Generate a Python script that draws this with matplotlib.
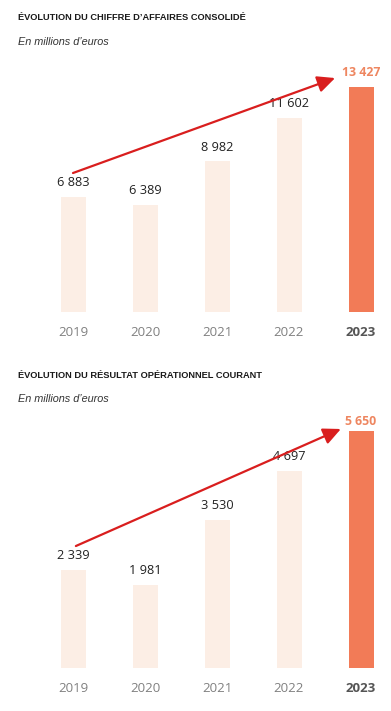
import matplotlib
matplotlib.use("Agg")
import matplotlib.pyplot as plt

years = ["2019", "2020", "2021", "2022", "2023"]
ca_values = [6883, 6389, 8982, 11602, 13427]
ca_labels = ["6 883", "6 389", "8 982", "11 602", "13 427"]
roc_values = [2339, 1981, 3530, 4697, 5650]
roc_labels = ["2 339", "1 981", "3 530", "4 697", "5 650"]

titles = ["ÉVOLUTION DU CHIFFRE D’AFFAIRES CONSOLIDÉ",
          "ÉVOLUTION DU RÉSULTAT OPÉRATIONNEL COURANT"]
subtitle = "En millions d’euros"

# arrow annotations (start, end) in data coords
ca_arrow = [(0.0, 8294), (3.64, 13962)]
roc_arrow = [(0.04, 2908), (3.72, 5698)]

LIGHT = "#FCEEE5"
HIGHLIGHT = "#F27B57"
LABEL_HI = "#EE8660"
ARROW = "#D91E1E"
FONT = ["Liberation Sans", "DejaVu Sans"]
NUMFONT = ["Open Sans", "DejaVu Sans"]

W, H = 391, 711
fig = plt.figure(figsize=(W / 100, H / 100), dpi=100)
fig.patch.set_facecolor("white")


def panel(base_px, top_px, ymax, values, labels, arrow, title_y, sub_y, title,
          hi_offset):
    ax = fig.add_axes([0, (H - base_px) / H, 1, (base_px - top_px) / H])
    ax.set_xlim(-73 / 72, (W - 73) / 72)
    ax.set_ylim(0, ymax)
    ax.axis("off")
    x = list(range(len(years)))
    colors = [LIGHT] * (len(years) - 1) + [HIGHLIGHT]
    ax.bar(x, values, width=25 / 72, color=colors)
    for i, (v, lab) in enumerate(zip(values, labels)):
        last = i == len(years) - 1
        ax.annotate(lab, xy=(i, v), xytext=(0, hi_offset if last else 14),
                    textcoords="offset pixels", ha="center", va="center",
                    fontsize=8.8 if last else 9.2,
                    fontweight="bold" if last else "normal",
                    color=LABEL_HI if last else "#222222", family=NUMFONT)
        ax.annotate(years[i], xy=(i, 0), xytext=(0, -20),
                    textcoords="offset pixels", ha="center", va="center",
                    fontsize=9.5, fontweight="bold" if last else "normal",
                    color="#555555" if last else "#808080", family=NUMFONT,
                    annotation_clip=False)
    (x0, y0), (x1, y1) = arrow
    ax.annotate("", xy=(x1, y1), xytext=(x0, y0),
                arrowprops=dict(arrowstyle="-|>,head_length=0.85,head_width=0.4",
                                color=ARROW, lw=1.6, mutation_scale=12.5,
                                shrinkA=0, shrinkB=0),
                annotation_clip=False)
    fig.text(18 / W, 1 - title_y / H, title, fontsize=6.7, fontweight="bold",
             color="#1a1a1a", ha="left", va="center", family=FONT)
    fig.text(18 / W, 1 - sub_y / H, subtitle, fontsize=7.8, style="italic",
             color="#333333", ha="left", va="center", family=FONT)
    return ax


panel(312, 60, 252 / (225 / 13427), ca_values, ca_labels, ca_arrow, 18, 42,
      titles[0], 15)
panel(668, 400, 268 / (237 / 5650), roc_values, roc_labels, roc_arrow, 375, 399,
      titles[1], 9)

fig.savefig("out.png", dpi=100, facecolor="white")
